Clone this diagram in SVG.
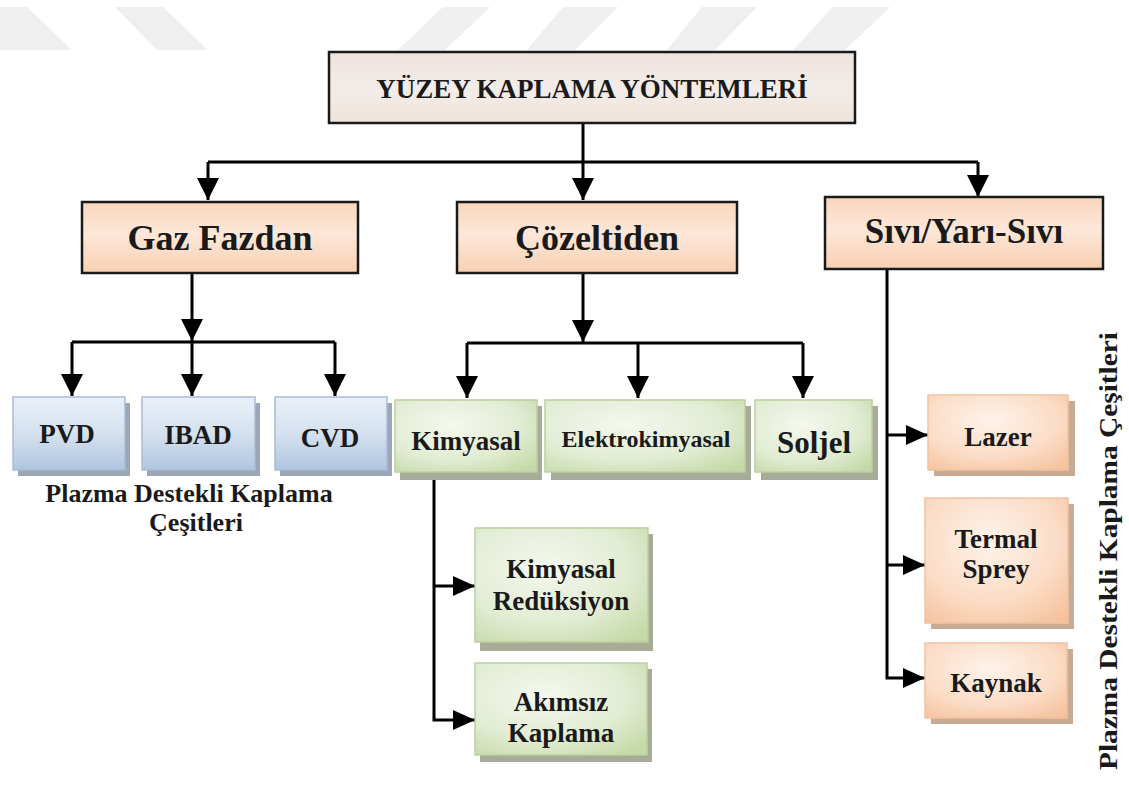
<svg xmlns="http://www.w3.org/2000/svg" width="1129" height="785" viewBox="0 0 1129 785">
<defs>
<linearGradient id="gTop" x1="0" y1="0" x2="0" y2="1"><stop offset="0" stop-color="#ede3de"/><stop offset="0.5" stop-color="#f3ece8"/><stop offset="1" stop-color="#efe4dc"/></linearGradient>
<linearGradient id="gPeach" x1="0" y1="0" x2="0" y2="1"><stop offset="0" stop-color="#f9d6bd"/><stop offset="0.45" stop-color="#fde7d8"/><stop offset="1" stop-color="#f8d0b3"/></linearGradient>
<linearGradient id="gBlue" x1="0" y1="0" x2="0" y2="1"><stop offset="0" stop-color="#eaf0f8"/><stop offset="0.5" stop-color="#d5e1ef"/><stop offset="1" stop-color="#afc5e0"/></linearGradient>
<radialGradient id="gGreen" cx="0.4" cy="0.35" r="0.8"><stop offset="0" stop-color="#f4f8ee"/><stop offset="0.6" stop-color="#e2ecd3"/><stop offset="1" stop-color="#c5d9a8"/></radialGradient>
<radialGradient id="gOrange" cx="0.45" cy="0.35" r="0.8"><stop offset="0" stop-color="#fef3ea"/><stop offset="0.6" stop-color="#fbdcc6"/><stop offset="1" stop-color="#f5c19b"/></radialGradient>
<marker id="ah" markerUnits="userSpaceOnUse" markerWidth="22" markerHeight="22" refX="22" refY="11" orient="auto" viewBox="0 0 22 22"><path d="M0,0 L22,11 L0,22 z" fill="#000"/></marker>
<marker id="ahs" markerUnits="userSpaceOnUse" markerWidth="22" markerHeight="20" refX="22" refY="10" orient="auto" viewBox="0 0 22 20"><path d="M0,0 L22,10 L0,20 z" fill="#000"/></marker>
</defs>
<style>
text{font-family:"Liberation Serif","Times New Roman",serif;font-weight:bold;fill:#1a1a1a;text-anchor:middle}
.main{stroke:#1a1a1a;stroke-width:2.5}
.blue{fill:url(#gBlue);stroke:#a9bcd3;stroke-width:1.5}
.green{fill:url(#gGreen);stroke:#bcd0a0;stroke-width:1.5}
.orange{fill:url(#gOrange);stroke:#efc3a3;stroke-width:1.5}
.shB{fill:#9ba7b6}
.shG{fill:#a6ac98}
.shO{fill:#c9aa92}
.wm{fill:#efefef}
.conn{fill:none;stroke:#000;stroke-width:3}
.t36{font-size:36px}
.t27{font-size:27px}
</style>
<rect width="1129" height="785" fill="#fff"/>
<g id="watermark">
<polygon class="wm" points="0,7 27,7 72,50 0,50"/>
<polygon class="wm" points="115,7 163,7 208,50 157,50"/>
<polygon class="wm" points="443,7 490,7 445,50 398,50"/>
<polygon class="wm" points="563,7 618,7 575,50 527,50"/>
<polygon class="wm" points="702,7 757,7 715,50 667,50"/>
<polygon class="wm" points="833,7 890,7 845,50 793,50"/>
</g>
<g id="connectors">
<path class="conn" d="M583,123 V200" marker-end="url(#ah)"/>
<path class="conn" d="M208,162 H978"/>
<path class="conn" d="M208,162 V200" marker-end="url(#ah)"/>
<path class="conn" d="M978,162 V197" marker-end="url(#ah)"/>
<path class="conn" d="M192,273 V341" marker-end="url(#ah)"/>
<path class="conn" d="M72,342 H335"/>
<path class="conn" d="M72,342 V396" marker-end="url(#ah)"/>
<path class="conn" d="M192,342 V396" marker-end="url(#ah)"/>
<path class="conn" d="M335,342 V396" marker-end="url(#ah)"/>
<path class="conn" d="M583,273 V342" marker-end="url(#ah)"/>
<path class="conn" d="M467,343 H803"/>
<path class="conn" d="M467,343 V398" marker-end="url(#ah)"/>
<path class="conn" d="M638,343 V398" marker-end="url(#ah)"/>
<path class="conn" d="M803,343 V398" marker-end="url(#ah)"/>
<path class="conn" d="M434,474 V720 H475" marker-end="url(#ahs)"/>
<path class="conn" d="M434,586 H475" marker-end="url(#ahs)"/>
<path class="conn" d="M887,269 V678 H925" marker-end="url(#ahs)"/>
<path class="conn" d="M887,435 H928" marker-end="url(#ahs)"/>
<path class="conn" d="M887,565 H925" marker-end="url(#ahs)"/>
</g>
<g id="n-top">
<rect x="329" y="52" width="526" height="71" fill="url(#gTop)" class="main"/>
<text x="592" y="98" font-size="27">YÜZEY KAPLAMA YÖNTEMLERİ</text>
</g>
<g id="n-gaz">
<rect x="82" y="202" width="276" height="71" fill="url(#gPeach)" class="main"/>
<text x="220" y="250" class="t36">Gaz Fazdan</text>
</g>
<g id="n-cozeltiden">
<rect x="457" y="202" width="280" height="71" fill="url(#gPeach)" class="main"/>
<text x="597" y="250" class="t36">Çözeltiden</text>
</g>
<g id="n-sivi">
<rect x="825" y="197" width="278" height="72" fill="url(#gPeach)" class="main"/>
<text x="964" y="243" font-size="35">Sıvı/Yarı-Sıvı</text>
</g>
<g id="n-pvd">
<rect class="shB" x="18" y="403" width="112" height="73"/>
<rect class="blue" x="13" y="397" width="112" height="73"/>
<text x="67" y="443" class="t27">PVD</text>
</g>
<g id="n-ibad">
<rect class="shB" x="147" y="403" width="113" height="73"/>
<rect class="blue" x="142" y="397" width="113" height="73"/>
<text x="198" y="444" class="t27">IBAD</text>
</g>
<g id="n-cvd">
<rect class="shB" x="280" y="403" width="112" height="73"/>
<rect class="blue" x="275" y="397" width="112" height="73"/>
<text x="330" y="447" class="t27">CVD</text>
</g>
<g id="cap-left">
<text x="189" y="502" font-size="26">Plazma Destekli Kaplama</text>
<text x="196" y="531" font-size="26">Çeşitleri</text>
</g>
<g id="n-kimyasal">
<rect class="shG" x="400" y="406" width="142" height="74"/>
<rect class="green" x="395" y="400" width="142" height="72"/>
<text x="466" y="450" class="t27">Kimyasal</text>
</g>
<g id="n-elektro">
<rect class="shG" x="551" y="406" width="200" height="74"/>
<rect class="green" x="545" y="400" width="200" height="72"/>
<text x="646" y="447" font-size="24">Elektrokimyasal</text>
</g>
<g id="n-soljel">
<rect class="shG" x="761" y="406" width="117" height="74"/>
<rect class="green" x="755" y="400" width="117" height="72"/>
<text x="814" y="453" font-size="31">Soljel</text>
</g>
<g id="n-kimred">
<rect class="shG" x="480" y="534" width="173" height="117"/>
<rect class="green" x="475" y="528" width="173" height="114"/>
<text x="561" y="578" class="t27">Kimyasal</text>
<text x="561" y="610" class="t27">Redüksiyon</text>
</g>
<g id="n-akimsiz">
<rect class="shG" x="480" y="669" width="172" height="93"/>
<rect class="green" x="475" y="663" width="172" height="92"/>
<text x="561" y="711" class="t27">Akımsız</text>
<text x="561" y="742" class="t27">Kaplama</text>
</g>
<g id="n-lazer">
<rect class="shO" x="934" y="401" width="141" height="75"/>
<rect class="orange" x="928" y="395" width="140" height="75"/>
<text x="998" y="446" class="t27">Lazer</text>
</g>
<g id="n-termal">
<rect class="shO" x="931" y="504" width="143" height="125"/>
<rect class="orange" x="925" y="498" width="143" height="125"/>
<text x="996" y="548" class="t27">Termal</text>
<text x="996" y="578" class="t27">Sprey</text>
</g>
<g id="n-kaynak">
<rect class="shO" x="931" y="649" width="142" height="75"/>
<rect class="orange" x="925" y="643" width="142" height="75"/>
<text x="996" y="692" class="t27">Kaynak</text>
</g>
<g id="cap-right">
<text transform="translate(1117,551) rotate(-90)" font-size="25" textLength="438" lengthAdjust="spacingAndGlyphs">Plazma Destekli Kaplama Çeşitleri</text>
</g>
</svg>
